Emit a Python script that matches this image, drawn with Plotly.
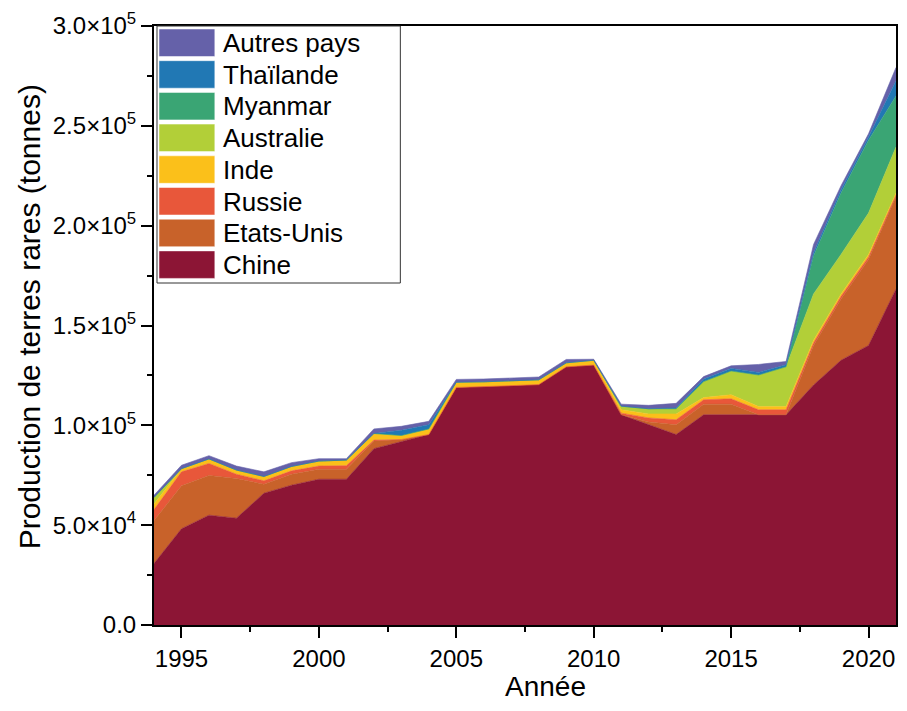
import plotly.graph_objects as go

annees = list(range(1994, 2022))

chine = [30800, 48200, 55000, 53500, 66000, 70000, 73000, 73000, 88300, 92000, 95400,
         119000, 119400, 120000, 120400, 129300, 130200,
         105300, 100300, 95400, 105300, 105300, 105300, 105300, 120200, 132600, 140000, 168300]
etats_unis = [21500, 21500, 19900, 19900, 4500, 5500, 5000, 5000, 3800, 900, 0,
              0, 0, 0, 0, 0, 0,
              0, 1400, 4900, 5300, 5300, 0, 0, 19800, 30700, 43000, 46300]
russie = [5500, 7000, 6000, 2100, 1700, 1700, 1600, 1800, 500, 0, 0,
          0, 0, 0, 0, 0, 0,
          800, 2000, 2500, 2200, 2700, 2500, 2500, 1300, 1300, 1300, 900]
inde = [2800, 1600, 2300, 2100, 2200, 2200, 2500, 2800, 3300, 2000, 2800,
        2600, 2400, 2400, 2400, 2000, 2400,
        1700, 2000, 2900, 1100, 2000, 1600, 1600, 1300, 1200, 1300, 800]
australie = [3300, 0, 0, 0, 0, 0, 0, 0, 0, 0, 0,
             0, 0, 0, 0, 0, 0,
             1800, 2600, 2600, 8000, 11900, 15800, 19900, 23200, 19800, 20700, 23100]
myanmar = [0, 0, 0, 0, 0, 0, 0, 0, 0, 0, 0,
           0, 0, 0, 0, 0, 0,
           0, 0, 0, 0, 0, 0, 0, 19000, 30700, 36500, 25600]
thailande = [0, 0, 0, 0, 0, 0, 0, 0, 0, 2600, 2100,
             0, 0, 0, 0, 0, 0,
             0, 0, 400, 1300, 1300, 1300, 1000, 1600, 1700, 1600, 7600]
autres = [1100, 1700, 1600, 2000, 2300, 1900, 1200, 700, 2300, 2000, 1700,
          1400, 1400, 1400, 1400, 1700, 500,
          1000, 1700, 2300, 1200, 1300, 4000, 1700, 4200, 2000, 1600, 6600]

noms = ["Chine", "Etats-Unis", "Russie", "Inde", "Australie", "Myanmar", "Thaïlande", "Autres pays"]
valeurs = [chine, etats_unis, russie, inde, australie, myanmar, thailande, autres]
couleurs = ["#8C1535", "#C8622A", "#E8573A", "#FBC01A", "#B2CF38", "#3AA574", "#2178B4", "#6561A9"]

y_ticks = [0, 50000, 100000, 150000, 200000, 250000, 300000]
y_labels = ["0.0", "5.0×10<sup>4</sup>", "1.0×10<sup>5</sup>", "1.5×10<sup>5</sup>",
            "2.0×10<sup>5</sup>", "2.5×10<sup>5</sup>", "3.0×10<sup>5</sup>"]

FONT = "Liberation Sans, Arial, sans-serif"

fig = go.Figure()
for nom, vals, col in zip(noms, valeurs, couleurs):
    fig.add_trace(go.Scatter(
        x=annees, y=vals, name=nom, mode="lines", stackgroup="one",
        line=dict(width=0.6, color=col), fillcolor=col, showlegend=False,
    ))

# the page body adds 8px on every side; keep the figure inside the window
OFF = 8
W, H = 907 - 2 * OFF, 711 - 2 * OFF
PL, PR, PT, PB = 154, 898, 26, 625  # plot area in window pixels
L, R, T, B = PL - OFF, W - (PR - OFF), PT - OFF, H - (PB - OFF)
pw, ph = PR - PL, PB - PT

def px(xp):
    return (xp - PL) / pw

def py(yp):
    return (PB - yp) / ph

shapes = []
annotations = []
shapes.append(dict(type="rect", xref="paper", yref="paper",
                   x0=px(157), x1=px(401), y0=py(283), y1=py(26),
                   line=dict(color="#333333", width=1), fillcolor="white", layer="above"))
ordre = list(range(len(noms)))[::-1]
for i, k in enumerate(ordre):
    top = 29 + i * 31.7
    shapes.append(dict(type="rect", xref="paper", yref="paper",
                       x0=px(159), x1=px(215), y0=py(top + 27.5), y1=py(top),
                       line=dict(color="white", width=0.5), fillcolor=couleurs[k], layer="above"))
    annotations.append(dict(xref="paper", yref="paper", x=px(221), y=py(top + 14),
                            text=noms[k], showarrow=False, xanchor="left", yanchor="middle",
                            font=dict(family=FONT, size=26, color="black")))

annotations.append(dict(xref="paper", yref="paper", x=px(547), y=py(686),
                        text="Année", showarrow=False, xanchor="center", yanchor="middle",
                        font=dict(family=FONT, size=28, color="black")))
annotations.append(dict(xref="paper", yref="paper", x=px(30), y=py(317),
                        text="Production de terres rares (tonnes)", showarrow=False,
                        textangle=-90, xanchor="center", yanchor="middle",
                        font=dict(family=FONT, size=30, color="black")))

fig.update_layout(
    width=W, height=H, autosize=False,
    margin=dict(l=L, r=R, t=T, b=B, pad=0),
    paper_bgcolor="white", plot_bgcolor="white",
    font=dict(family=FONT, size=24, color="black"),
    shapes=shapes, annotations=annotations,
    showlegend=False,
)
fig.update_xaxes(
    range=[1994, 2021], tickmode="linear", tick0=1995, dtick=5,
    ticks="outside", ticklen=11, tickwidth=2, tickcolor="black",
    showline=True, linewidth=2, linecolor="black", mirror=True,
    showgrid=False, zeroline=False,
    minor=dict(dtick=2.5, tick0=1995, ticks="outside", ticklen=5, tickwidth=2, tickcolor="black"),
    tickfont=dict(family=FONT, size=24, color="black"),
)
fig.update_yaxes(
    range=[0, 300000], tickmode="array", tickvals=y_ticks, ticktext=y_labels,
    ticks="outside", ticklen=11, tickwidth=2, tickcolor="black",
    showline=True, linewidth=2, linecolor="black", mirror=True,
    showgrid=False, zeroline=False,
    minor=dict(tickmode="linear", tick0=0, dtick=25000, ticks="outside", ticklen=5,
               tickwidth=2, tickcolor="black"),
    tickfont=dict(family=FONT, size=24, color="black"),
)

fig.write_html("out.html")
